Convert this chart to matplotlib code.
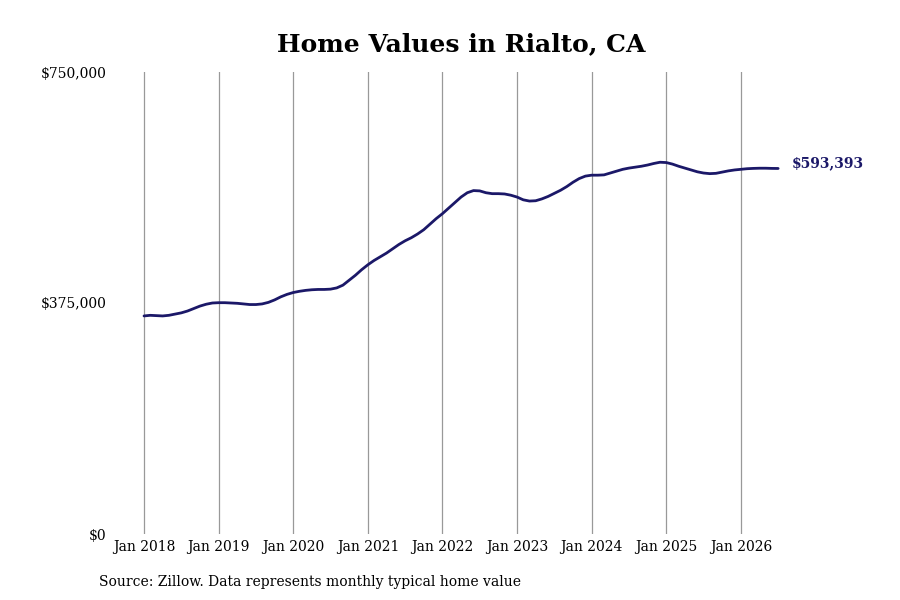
import numpy as np
import matplotlib.pyplot as plt

# Monthly typical home value, Jan 2018 .. Jul 2026
values_2018 = [354000, 355000, 354500, 354000, 355000, 357000, 359000, 362000, 366000, 370000, 373000, 375000]
values_2019 = [375500, 375500, 375000, 374500, 373500, 372500, 372500, 373500, 376000, 380000, 385000, 389000]
values_2020 = [392000, 394000, 395500, 396500, 397000, 397000, 397500, 399500, 404000, 412000, 420000, 429000]
values_2021 = [437000, 444000, 450000, 456000, 463000, 470000, 476000, 481000, 487000, 494000, 503000, 512000]
values_2022 = [520000, 529000, 538000, 547000, 554000, 557500, 557000, 554000, 552500, 552500, 552000, 550000]
values_2023 = [547000, 542500, 540500, 541000, 544000, 548000, 553000, 558000, 564000, 571000, 577000, 581000]
values_2024 = [582500, 582500, 583000, 586000, 589000, 592000, 594000, 595500, 597000, 599000, 601500, 603500]
values_2025 = [603000, 600500, 597000, 594000, 591000, 588000, 586000, 585000, 585500, 587500, 589500, 591000]
values_2026 = [592000, 593000, 593500, 593800, 593800, 593500, 593393]

values = (values_2018 + values_2019 + values_2020 + values_2021 + values_2022
          + values_2023 + values_2024 + values_2025 + values_2026)
start_year = 2018
years = [2018, 2019, 2020, 2021, 2022, 2023, 2024, 2025, 2026]
tick_labels = ['Jan %d' % y for y in years]
y_ticks = [0, 375000, 750000]
y_labels = ['$0', '$375,000', '$750,000']

x = start_year + np.arange(len(values)) / 12.0

plt.rcParams['font.family'] = 'DejaVu Serif'

fig = plt.figure(figsize=(9, 6), dpi=100)
ax = fig.add_axes([110 / 900, 66 / 600, 670 / 900, 462 / 600])

line_color = '#1b1868'
ax.plot(x, values, color=line_color, lw=2.0, solid_capstyle='round', zorder=3)

# final value label
ax.annotate('${:,}'.format(values[-1]), xy=(x[-1], values[-1]), xytext=(10, 3.6),
            textcoords='offset points', va='center', ha='left',
            fontsize=10, fontweight='bold', color=line_color, annotation_clip=False)

ax.set_xlim(2017.544, 2026.525)
ax.set_ylim(0, 750000)
ax.set_xticks(years)
ax.set_xticklabels(tick_labels, fontsize=10)
ax.set_yticks(y_ticks)
ax.set_yticklabels(y_labels, fontsize=10)
ax.tick_params(axis='both', length=0)
ax.tick_params(axis='y', pad=2.5)
ax.tick_params(axis='x', pad=4)
ax.grid(axis='x', color='#999999', lw=0.9)
ax.set_axisbelow(True)
for s in ax.spines.values():
    s.set_visible(False)

fig.text(461 / 900, 1 - 44 / 600, 'Home Values in Rialto, CA', ha='center', va='center',
         fontsize=18, fontweight='bold')
fig.text(99 / 900, 1 - 582 / 600, 'Source: Zillow. Data represents monthly typical home value',
         ha='left', va='center', fontsize=10)

fig.savefig('out.png', dpi=100, facecolor='white')
